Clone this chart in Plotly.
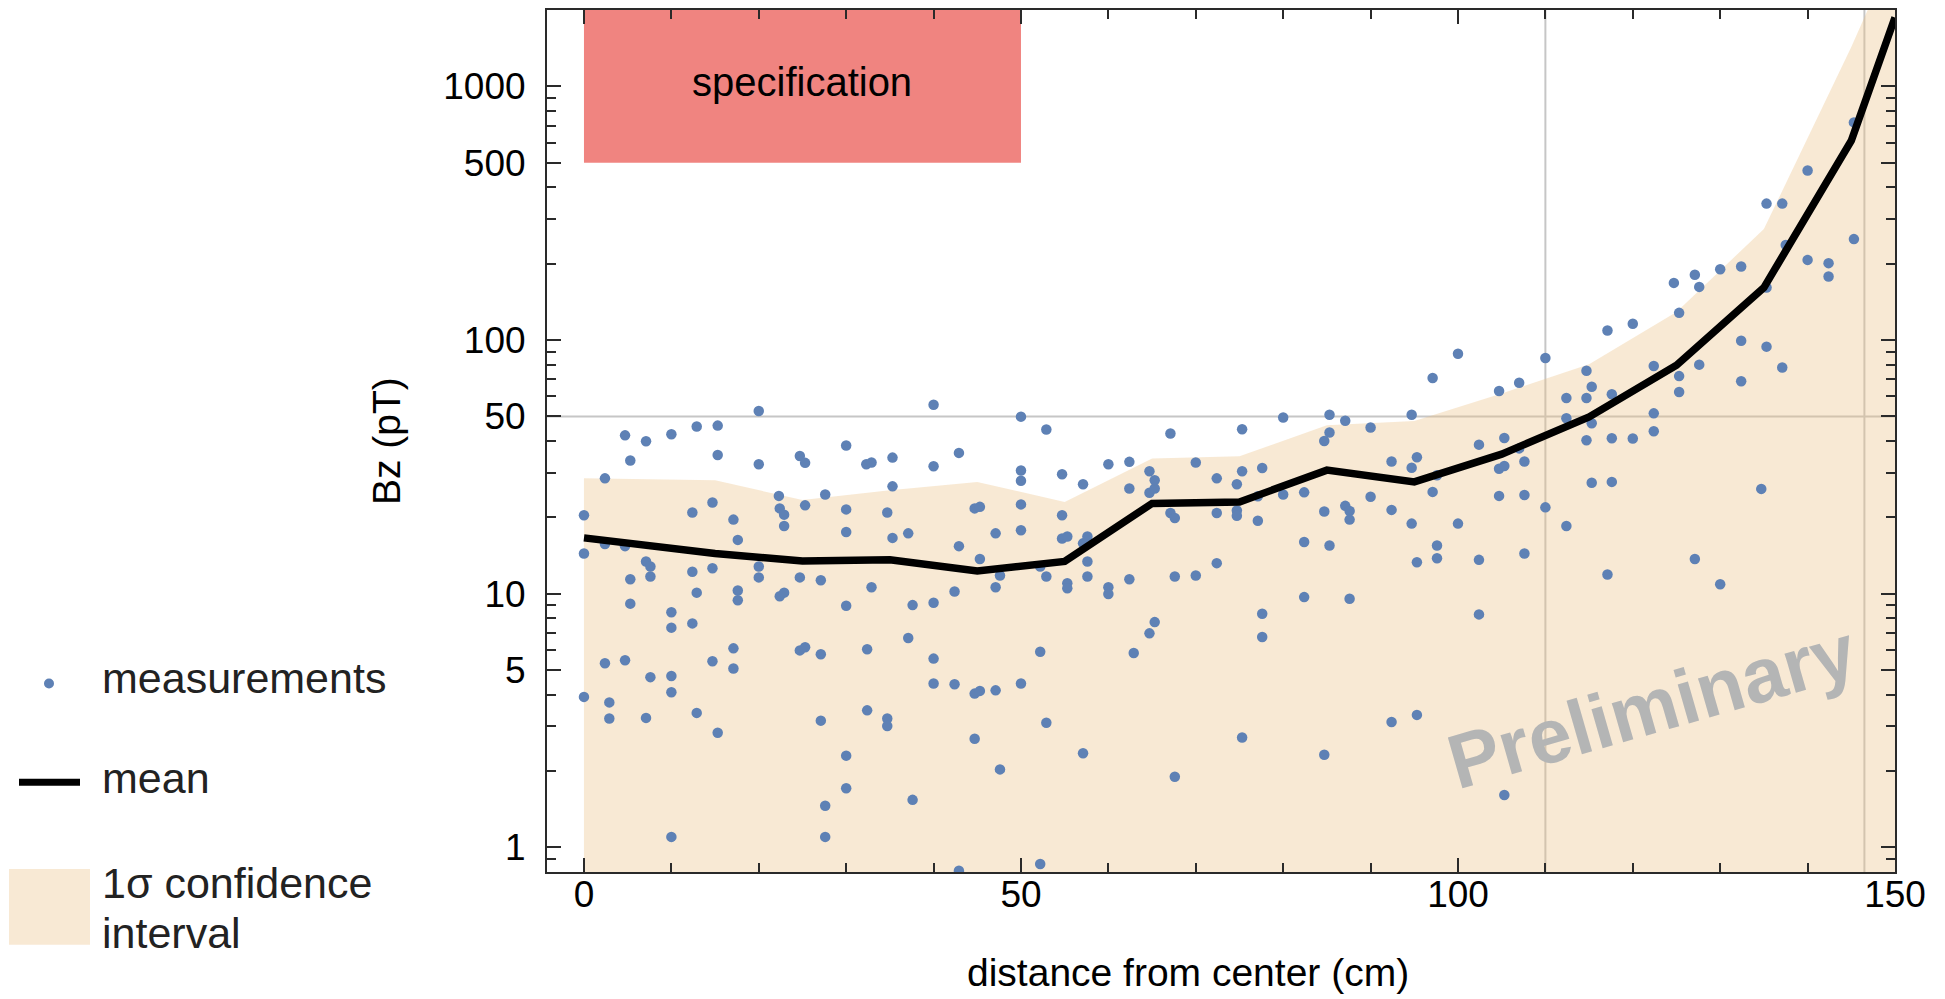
import math
import plotly.graph_objects as go

FONT = "Liberation Sans, Arial, Helvetica, sans-serif"

# ---------------- data ----------------
meas_x = [
    2.4, 4.7, 5.3, 7.1, 10.0, 12.9, 15.3, 15.3, 20.0, 20.0, 22.3, 24.7, 25.3, 27.6, 30.0, 32.3, 32.9,
    35.3, 35.3, 40.0, 40.0, 42.9, 50.0, 50.0, 50.0, 14.7,
    0.0, 0.0, 0.0, 2.4, 2.4, 2.9, 2.9, 4.7, 4.7, 5.3, 5.3, 7.1, 7.6, 7.6, 7.6, 7.1, 10.0, 10.0, 10.0,
    10.0, 10.0, 12.4, 12.4, 12.4, 12.9, 12.9, 14.7, 14.7, 15.3, 17.1, 17.6, 17.6, 17.6, 17.1, 17.1,
    20.0, 20.0, 22.4, 22.9, 22.9, 22.4, 22.9, 24.7, 25.3, 24.7, 25.3, 27.1, 27.1, 27.1, 27.6, 27.6,
    30.0, 30.0, 30.0, 30.0, 30.0, 34.7, 35.3, 32.9, 32.4, 32.4, 34.7, 34.7, 37.1, 37.6, 37.1, 37.6,
    40.0, 40.0, 40.0, 42.4, 42.4, 42.9, 42.9, 44.7, 45.3, 45.3, 44.7, 45.3, 44.7, 47.1, 47.6, 47.1,
    47.1, 47.6, 50.0, 50.0, 50.0, 52.2, 52.2, 52.2,
    52.9, 52.9, 54.7, 54.7, 55.3, 57.1, 57.1, 57.1, 57.6, 57.6, 57.6, 55.3, 55.3, 60.0, 60.0, 62.4,
    62.4, 62.9, 64.7, 65.3, 65.3, 64.7, 65.3, 67.1, 67.6, 67.6, 67.6, 70.0, 72.4, 72.4, 72.4, 74.7,
    74.7, 74.7, 75.3, 77.1, 77.1, 77.6, 77.6, 80.0, 82.4, 82.4, 82.4, 84.7, 85.3, 84.7, 87.1, 87.6,
    87.6, 87.6, 90.0, 92.4, 92.4, 94.7, 95.3, 95.3, 97.1, 97.6, 97.6, 97.6, 100.0, 102.4, 102.4,
    104.7, 105.3, 107.6, 107.6,
    52.9, 54.7, 60.0, 62.4, 64.7, 67.1, 70.0, 75.3, 75.3, 77.6, 80.0, 84.7, 85.3, 85.3, 87.1, 90.0,
    92.4, 94.7, 94.7, 95.3, 97.1, 100.0, 102.4, 104.7, 104.7, 105.3, 105.3, 107.0, 107.0, 107.6,
    110.0, 112.4, 112.4, 114.7, 114.7, 114.7, 115.3, 115.3, 115.3, 117.1, 117.6, 117.6, 117.6, 120.0,
    120.0, 122.4, 122.4, 122.4, 124.7, 125.3, 125.3, 125.3, 127.1, 127.6, 127.6, 130.0, 132.4, 132.4,
    132.4, 135.3, 135.3, 134.7, 137.1, 137.5, 137.1, 140.0, 140.0, 142.4, 142.4, 145.3, 145.3, 135.3,
    110.0, 112.4, 117.1, 127.1, 130.0,
]
meas_y = [
    28.5, 42.1, 33.5, 39.9, 42.5, 45.6, 46.0, 35.2, 52.5, 32.4, 24.3, 34.9, 32.8, 24.6, 38.4, 32.4, 32.9,
    34.4, 26.5, 55.6, 31.8, 35.9, 49.9, 30.6, 27.9, 22.9,
    20.4, 14.4, 3.92, 15.7, 5.32, 3.73, 3.22, 15.4, 5.47, 11.4, 9.14, 13.4, 12.8, 11.7, 4.69, 3.24, 8.45, 7.35, 4.74,
    4.09, 1.10, 20.9, 12.2, 7.64, 10.1, 3.39, 12.6, 5.42, 2.83, 19.6, 16.3, 10.3, 9.42, 6.09, 5.07,
    12.8, 11.6, 21.7, 20.5, 18.5, 9.77, 10.1, 11.6, 22.3, 5.98, 6.15, 11.3, 5.77, 3.16, 1.46, 1.10,
    21.5, 17.5, 8.97, 2.30, 1.71, 20.9, 16.6, 10.6, 6.04, 3.47, 3.22, 3.01, 17.3, 9.02, 6.69, 1.54,
    9.22, 5.55, 4.43, 10.2, 4.40, 15.4, 0.81, 21.7, 22.0, 13.7, 4.04, 4.14, 2.68, 17.3, 11.8, 10.6,
    4.16, 2.03, 22.5, 17.8, 4.43, 12.8, 5.91, 0.86,
    11.7, 3.10, 20.4, 16.5, 16.8, 27.0, 2.35, 15.8, 16.8, 13.4, 11.7, 11.0, 10.5, 10.6, 9.97, 26.0,
    11.4, 5.84, 25.0, 26.0, 28.0, 6.98, 7.73, 20.8, 19.9, 11.7, 1.90, 11.8, 28.5, 20.8, 13.2, 27.0,
    21.3, 20.3, 2.71, 24.2, 19.4, 8.34, 6.75, 24.6, 25.1, 16.0, 9.70, 21.1, 15.5, 2.32, 22.2, 21.2,
    19.6, 9.55, 24.1, 21.4, 3.12, 18.9, 13.3, 3.33, 25.2, 15.5, 13.8, 29.3, 18.9, 13.6, 8.29,
    24.3, 1.61, 24.5, 14.4,
    44.4, 29.6, 32.4, 33.1, 30.4, 42.8, 32.9, 44.5, 30.4, 31.3, 49.5, 40.0, 50.8, 43.2, 48.1, 45.2,
    33.2, 50.8, 31.4, 34.5, 70.9, 88.3, 38.7, 63.0, 31.1, 41.1, 31.9, 67.9, 37.4, 33.2,
    85.0, 59.1, 49.2, 75.7, 59.1, 40.3, 65.5, 47.0, 27.4, 109.0, 61.1, 41.0, 27.6, 116.0,
    40.9, 79.0, 51.4, 43.7, 168.0, 128.0, 72.1, 62.4, 181.0, 162.0, 80.0, 190.0, 195.0, 99.4,
    68.8, 345.0, 94.2, 25.9, 345.0, 237.0, 78.0, 466.0, 207.0, 201.0, 178.0, 721.0, 250.0, 161.0,
    21.9, 18.5, 11.9, 13.7, 10.9,
]

mean_x = [0, 15, 25, 35, 45, 55, 65, 75, 85, 95, 105, 115, 125, 135, 145, 150]
mean_y = [16.6, 14.4, 13.45, 13.6, 12.3, 13.4, 22.7, 23.0, 30.7, 27.6, 35.5, 49.8, 79.5, 161, 611, 1870]

ci_x = [0, 15, 25, 35, 45, 55, 65, 75, 85, 95, 105, 115, 125, 135, 145, 150]
ci_upper = [28.5, 28.0, 23.4, 25.6, 27.6, 23.0, 34.1, 34.8, 46.1, 48.0, 61.6, 80.2, 129, 274, 1430, 3500]
ci_lower = [0.5, 0.5, 0.5, 0.5, 0.5, 0.5, 0.5, 0.5, 0.5, 0.5, 0.5, 0.5, 0.5, 0.5, 0.5, 0.5]

spec_x = [0, 50]
spec_y = [500, 2000]
grid_x = [110, 146.5]
grid_y = [50]

x_range = [-4.23, 150]
y_range = [0.8, 2000]
x_ticks = [0, 50, 100, 150]
x_minor = [10, 20, 30, 40, 60, 70, 80, 90, 110, 120, 130, 140]
y_ticks = [1, 5, 10, 50, 100, 500, 1000]
y_ticktext = ["1", "5", "10", "50", "100", "500", "1000"]
y_minor = [0.9, 2, 3, 4, 6, 7, 8, 9, 20, 30, 40, 60, 70, 80, 90, 200, 300, 400, 600, 700, 800, 900, 2000]

# ---------------- colours ----------------
DOT = "rgb(94,129,181)"
BAND = "rgba(235,192,132,0.35)"
BAND_SOLID = "rgb(248,233,212)"
SPEC = "rgb(240,132,128)"
GRID = "rgb(198,198,198)"
AX = "#2a2a2a"

fig = go.Figure()

fig.add_trace(go.Scatter(x=ci_x, y=ci_lower, mode="lines", line=dict(width=0),
                         showlegend=False, hoverinfo="skip"))
fig.add_trace(go.Scatter(x=ci_x, y=ci_upper, mode="lines", line=dict(width=0),
                         fill="tonexty", fillcolor=BAND, showlegend=False, hoverinfo="skip"))
fig.add_trace(go.Scatter(x=meas_x, y=meas_y, mode="markers",
                         marker=dict(color=DOT, size=10.5, line=dict(width=0)),
                         showlegend=False))
fig.add_trace(go.Scatter(x=mean_x, y=mean_y, mode="lines",
                         line=dict(color="black", width=7.5), showlegend=False))

shapes = []
shapes.append(dict(type="rect", xref="x", yref="y", x0=spec_x[0], x1=spec_x[1],
                   y0=spec_y[0], y1=spec_y[1],
                   fillcolor=SPEC, line=dict(width=0), layer="below"))
for gx in grid_x:
    shapes.append(dict(type="line", xref="x", yref="paper", x0=gx, x1=gx, y0=0, y1=1,
                       line=dict(color=GRID, width=2), layer="below"))
for gy in grid_y:
    shapes.append(dict(type="line", xref="paper", yref="y", x0=0, x1=1,
                       y0=gy, y1=gy,
                       line=dict(color=GRID, width=2), layer="below"))

# ----- manual legend (left side, outside the frame) -----
L, T, H, W = 547, 8, 864, 1348
def px(xp):
    return (xp - L) / W
def py(yp):
    return (T + H - yp) / H

shapes.append(dict(type="circle", xref="paper", yref="paper", xsizemode="pixel", ysizemode="pixel",
                   xanchor=px(49), yanchor=py(683), x0=-5, x1=5, y0=-5, y1=5,
                   fillcolor=DOT, line=dict(width=0)))
shapes.append(dict(type="line", xref="paper", yref="paper", x0=px(19), x1=px(80),
                   y0=py(782), y1=py(782), line=dict(color="black", width=7)))
shapes.append(dict(type="rect", xref="paper", yref="paper", x0=px(9), x1=px(90),
                   y0=py(945), y1=py(869), fillcolor=BAND_SOLID, line=dict(width=0)))

ann = []
LEG_FONT = dict(family=FONT, size=43, color="#222222")
for txt, yc in [("measurements", 678), ("mean", 778), ("1σ confidence", 883), ("interval", 933)]:
    ann.append(dict(text=txt, xref="paper", yref="paper", x=px(100), y=py(yc),
                    xanchor="left", yanchor="middle", showarrow=False, font=LEG_FONT))

ann.append(dict(text="specification", xref="x", yref="y", x=25,
                y=(math.log10(spec_y[0]) + math.log10(spec_y[1])) / 2, yshift=4,
                xanchor="center", yanchor="middle", showarrow=False,
                font=dict(family=FONT, size=40, color="black")))
ann.append(dict(text="<b>Preliminary</b>", xref="x", yref="y", x=122.2, y=math.log10(3.6),
                textangle=-16, xanchor="center", yanchor="middle", showarrow=False,
                font=dict(family=FONT, size=77, color="rgb(180,181,181)")))
ann.append(dict(text="distance from center (cm)", xref="paper", yref="paper",
                x=px(1188), y=py(973), xanchor="center", yanchor="middle", showarrow=False,
                font=dict(family=FONT, size=39, color="black")))
ann.append(dict(text="Bz (pT)", xref="paper", yref="paper", x=px(386), y=py(440),
                textangle=-90, xanchor="center", yanchor="middle", showarrow=False,
                font=dict(family=FONT, size=39, color="black")))

fig.update_layout(
    width=1945, height=999, autosize=False,
    margin=dict(l=L, r=1945 - L - W, t=T, b=999 - T - H, pad=0),
    paper_bgcolor="white", plot_bgcolor="white",
    showlegend=False,
    shapes=shapes, annotations=ann,
    xaxis=dict(range=x_range, showgrid=False, zeroline=False,
               showline=True, linecolor=AX, linewidth=2, mirror="ticks",
               ticks="inside", ticklen=14, tickwidth=1.5, tickcolor=AX,
               tickmode="array", tickvals=x_ticks, ticktext=[str(v) for v in x_ticks],
               tickfont=dict(family=FONT, size=37, color="black"), ticklabelstandoff=-11,
               minor=dict(tickmode="array", tickvals=x_minor, ticks="inside", ticklen=9,
                          tickwidth=1.5, tickcolor=AX, showgrid=False)),
    yaxis=dict(type="log", range=[math.log10(y_range[0]), math.log10(y_range[1])],
               showgrid=False, zeroline=False,
               showline=True, linecolor=AX, linewidth=2, mirror="ticks",
               ticks="inside", ticklen=14, tickwidth=1.5, tickcolor=AX,
               tickmode="array", tickvals=y_ticks, ticktext=y_ticktext,
               tickfont=dict(family=FONT, size=37, color="black"), ticklabelstandoff=12,
               minor=dict(tickmode="array", tickvals=y_minor, ticks="inside", ticklen=9,
                          tickwidth=1.5, tickcolor=AX, showgrid=False)),
)

fig.write_html("out.html")
